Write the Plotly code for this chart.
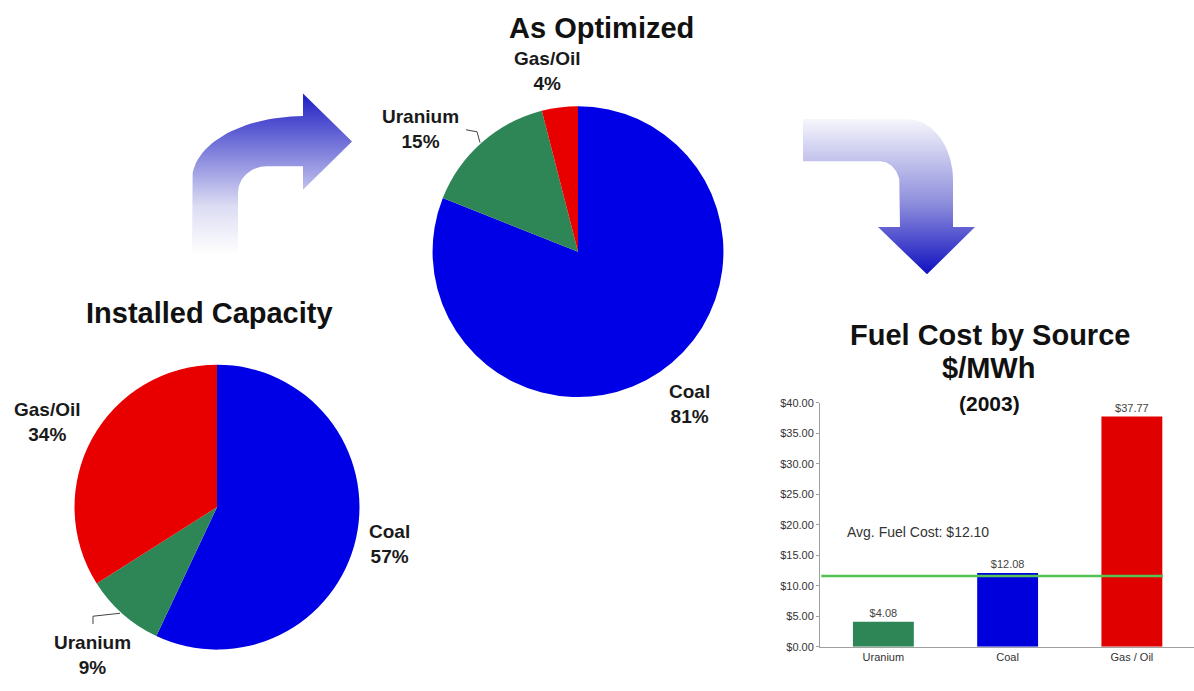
import plotly.graph_objects as go
import numpy as np

W, H = 1194, 691

# ---------------- data ----------------
sources = ["Coal", "Uranium", "Gas/Oil"]
installed_pct = [57, 9, 34]
optimized_pct = [81, 15, 4]

bar_categories = ["Uranium", "Coal", "Gas / Oil"]
fuel_cost = [4.08, 12.08, 37.77]
avg_fuel_cost_label = 12.10
avg_line_level = 11.6
y_ticks = [0, 5, 10, 15, 20, 25, 30, 35, 40]
y_tick_labels = [f"${v:.2f}" for v in y_ticks]

pie_colors = {"Coal": "#0000e6", "Uranium": "#2e8657", "Gas/Oil": "#e80000"}
bar_colors = ["#2e8657", "#0000dd", "#e00000"]


def px(x):
    return x / W


def py(y):
    return 1 - y / H


fig = go.Figure()

# ---------------- pies ----------------
fig.add_trace(go.Pie(
    labels=sources, values=installed_pct, sort=False, direction="clockwise",
    rotation=0, textinfo="none", hoverinfo="label+percent",
    marker=dict(colors=[pie_colors[s] for s in sources], line=dict(width=0)),
    domain=dict(x=[px(72), px(362)], y=[py(655), py(365)]),
    showlegend=False,
))
fig.add_trace(go.Pie(
    labels=sources, values=optimized_pct, sort=False, direction="clockwise",
    rotation=0, textinfo="none", hoverinfo="label+percent",
    marker=dict(colors=[pie_colors[s] for s in sources], line=dict(width=0)),
    domain=dict(x=[px(430), px(726)], y=[py(398), py(102)]),
    showlegend=False,
))

# ---------------- bar chart ----------------
fig.add_trace(go.Bar(
    x=bar_categories, y=fuel_cost,
    marker=dict(color=bar_colors, line=dict(width=0)),
    text=[f"${v:.2f}" for v in fuel_cost], textposition="outside",
    textfont=dict(family="Liberation Sans", size=11, color="#444"),
    cliponaxis=False, showlegend=False, width=0.49,
    xaxis="x", yaxis="y",
))

# ---------------- curved gradient arrows (decoration, pixel space) ----------------
def arc(cx, cy, rx, ry, a0, a1, n=30):
    t = np.radians(np.linspace(a0, a1, n))
    return list(cx + rx * np.cos(t)), list(cy + ry * np.sin(t))


# arrow 1 (up then right)
ax1, ay1 = [192], [253]
xs, ys = arc(303, 177, 111, 65, 180, 270)
ax1 += xs; ay1 += ys
ax1 += [303, 303, 352, 303, 303, 267]
ay1 += [112, 89, 138, 187, 163, 163]
xs, ys = arc(267, 190, 29, 27, 270, 180)
ax1 += xs; ay1 += ys
ax1 += [238, 192]; ay1 += [253, 253]

fig.add_trace(go.Scatter(
    x=ax1, y=[H - v for v in ay1], mode="lines", fill="toself",
    line=dict(width=0, color="rgba(0,0,0,0)"),
    fillgradient=dict(type="vertical",
                      colorscale=[[0, "#ffffff"], [0.3, "#dcdcf3"], [1, "#1e1ec4"]]),
    xaxis="x2", yaxis="y2", hoverinfo="skip", showlegend=False,
))

# arrow 2 (right then down)
ax2, ay2 = [803, 907], [115, 115]
xs, ys = arc(907, 177, 46, 62, 270, 360)
ax2 += xs; ay2 += ys
ax2 += [953, 975, 927, 878, 900, 900]
ay2 += [225, 225, 273, 225, 225, 183]
xs, ys = arc(880, 183, 20, 25, 0, -90)
ax2 += xs; ay2 += ys
ax2 += [803, 803]; ay2 += [158, 115]

fig.add_trace(go.Scatter(
    x=ax2, y=[H - v for v in ay2], mode="lines", fill="toself",
    line=dict(width=0, color="rgba(0,0,0,0)"),
    fillgradient=dict(type="vertical",
                      colorscale=[[0, "#1010c0"], [0.45, "#8c8cdc"], [1, "#f6f6fc"]]),
    xaxis="x2", yaxis="y2", hoverinfo="skip", showlegend=False,
))

# ---------------- annotations ----------------
ann = []


def add_text(x, y, text, size, bold=True, color="#1a1a1a"):
    ann.append(dict(
        x=px(x), y=py(y), xref="paper", yref="paper", text=f"<b>{text}</b>" if bold else text,
        showarrow=False, xanchor="center", yanchor="middle",
        font=dict(family="Liberation Sans", size=size, color=color),
    ))


add_text(601, 22, "As Optimized", 29, color="#111")
add_text(209, 312, "Installed Capacity", 29, color="#111")
add_text(990, 335, "Fuel Cost by Source", 29, color="#111")
add_text(988, 368, "$/MWh", 29, color="#111")
add_text(989, 405, "(2003)", 21, color="#111")

# pie labels
pie1_pos = {"Coal": (389, 547), "Uranium": (92, 660), "Gas/Oil": (47, 423)}
pie2_pos = {"Coal": (690, 405), "Uranium": (420, 125), "Gas/Oil": (547, 66)}
for s, v in zip(sources, installed_pct):
    add_text(*pie1_pos[s], f"{s}<br>{v}%", 19)
for s, v in zip(sources, optimized_pct):
    add_text(*pie2_pos[s], f"{s}<br>{v}%", 19)

# average fuel cost label
ann.append(dict(
    x=px(845), y=py(535), xref="paper", yref="paper",
    text=f"Avg. Fuel Cost: ${avg_fuel_cost_label:.2f}", showarrow=False,
    xanchor="left", yanchor="middle",
    font=dict(family="Liberation Sans", size=14, color="#333"),
))

shapes = [
    # leader lines for Uranium labels
    dict(type="path", xref="paper", yref="paper",
         path=f"M {px(120)},{py(618)} L {px(93)},{py(621)} L {px(93)},{py(629)}",
         line=dict(color="#444", width=1)),
    dict(type="path", xref="paper", yref="paper",
         path=f"M {px(466)},{py(126)} L {px(477)},{py(128)} L {px(480)},{py(139)}",
         line=dict(color="#444", width=1)),
    # average line
    dict(type="line", xref="x", yref="y", x0=-0.5, x1=2.25,
         y0=avg_line_level, y1=avg_line_level,
         line=dict(color="#55c255", width=2.5)),
]

fig.update_layout(
    width=W, height=H, margin=dict(l=0, r=0, t=0, b=0),
    paper_bgcolor="white", plot_bgcolor="rgba(0,0,0,0)",
    annotations=ann, shapes=shapes, bargap=0.51,
    xaxis=dict(domain=[px(820), 1.0], showgrid=False, zeroline=False,
               showline=True, linecolor="#a0a0a0", linewidth=1,
               tickfont=dict(family="Liberation Sans", size=11, color="#333"),
               ticks="", fixedrange=True, anchor="y"),
    yaxis=dict(domain=[py(652), py(404)], range=[0, 40], tickvals=y_ticks,
               ticktext=y_tick_labels, showgrid=False, zeroline=False,
               showline=True, linecolor="#a0a0a0", linewidth=1,
               ticks="outside", ticklen=3, tickcolor="#a0a0a0",
               tickfont=dict(family="Liberation Sans", size=11, color="#333"),
               fixedrange=True, anchor="x"),
    xaxis2=dict(domain=[0, 1], range=[0, W], visible=False, anchor="y2",
                fixedrange=True),
    yaxis2=dict(domain=[0, 1], range=[0, H], visible=False, anchor="x2",
                fixedrange=True),
)

fig.write_html("out.html")
